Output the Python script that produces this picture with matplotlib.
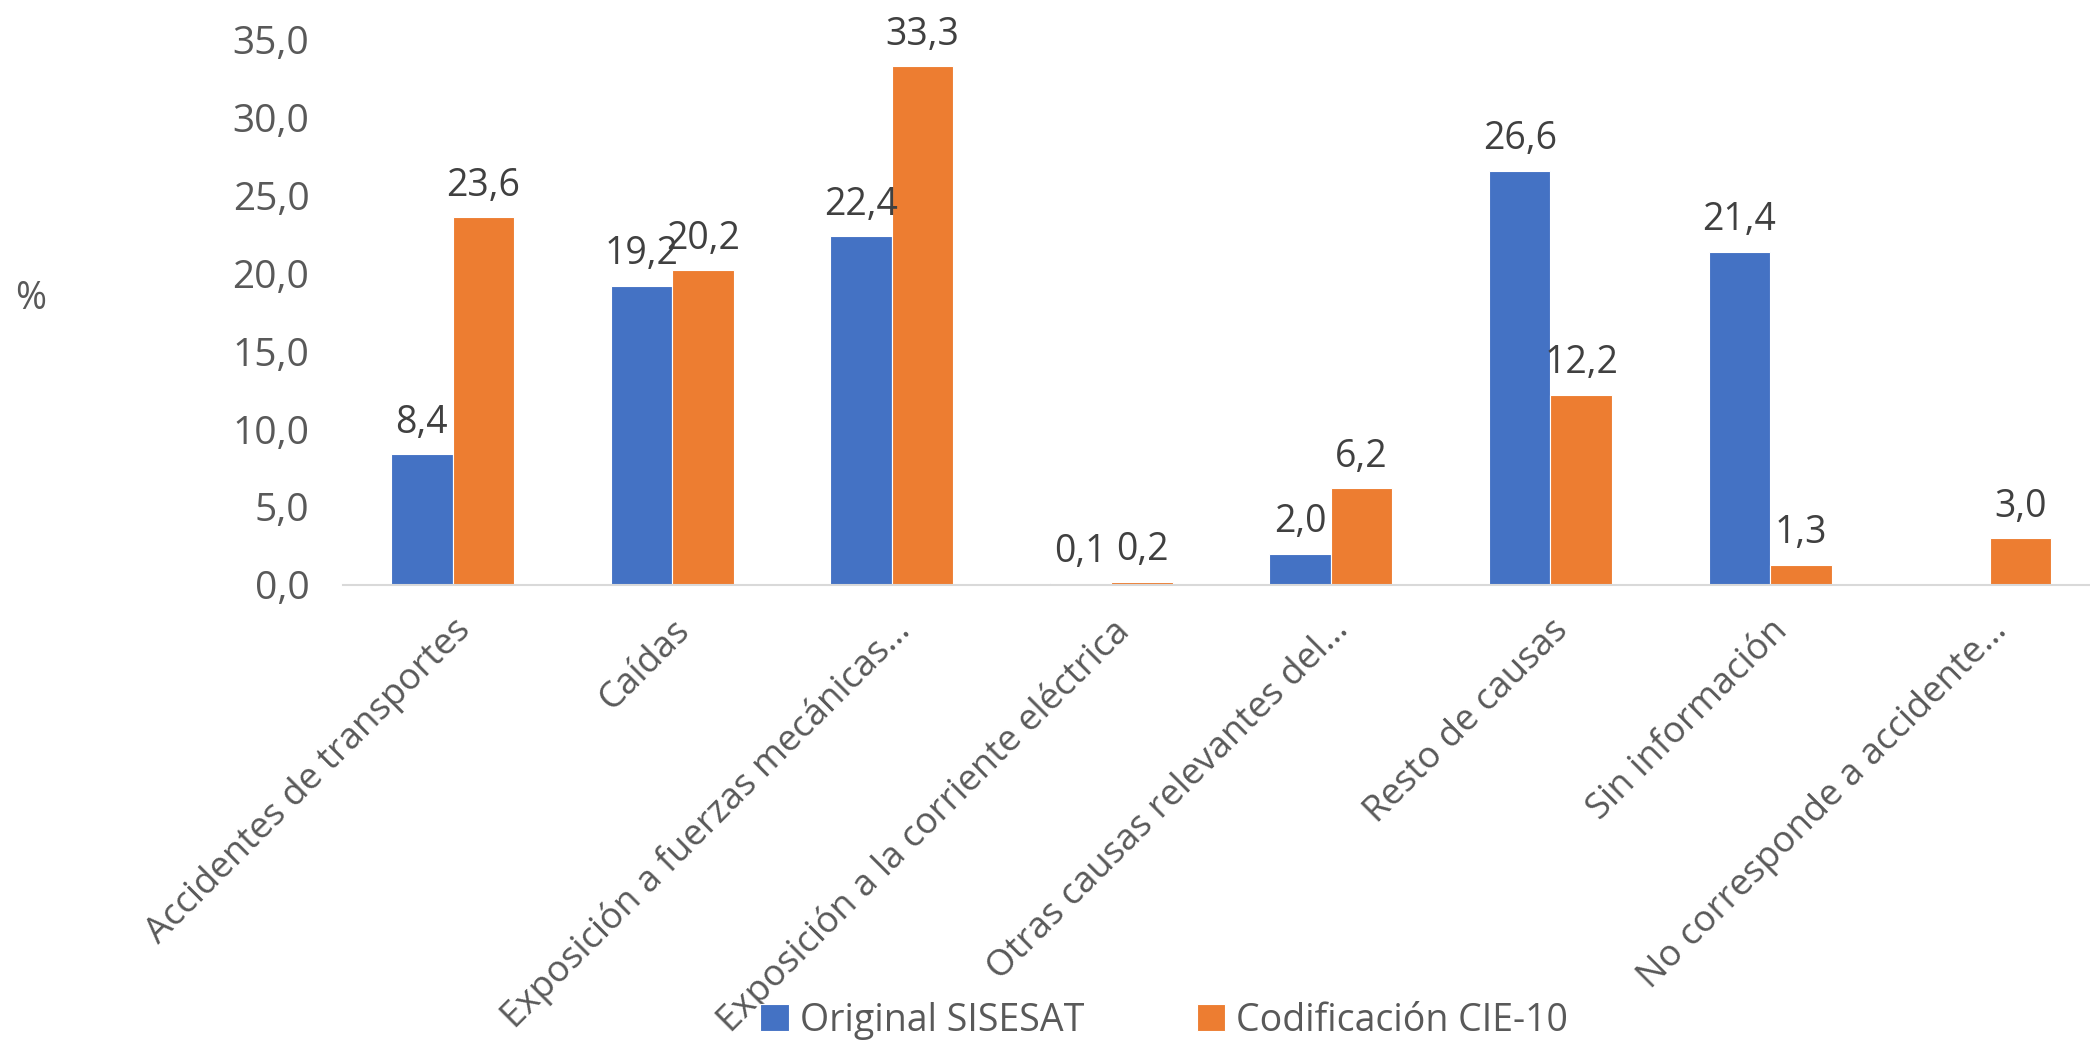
import numpy as np
import matplotlib
matplotlib.use("Agg")
import matplotlib.pyplot as plt

plt.rcParams['font.family'] = ['Open Sans', 'DejaVu Sans']

categorias = [
    "Accidentes de transportes",
    "Caídas",
    "Exposición a fuerzas mecánicas…",
    "Exposición a la corriente eléctrica",
    "Otras causas relevantes del…",
    "Resto de causas",
    "Sin información",
    "No corresponde a accidente…",
]
original = [8.4, 19.2, 22.4, 0.1, 2.0, 26.6, 21.4, np.nan]
cie10 = [23.6, 20.2, 33.3, 0.2, 6.2, 12.2, 1.3, 3.0]
series = ["Original SISESAT", "Codificación CIE-10"]
colores = ["#4472C4", "#ED7D31"]

fig = plt.figure(figsize=(20.9, 10.5), dpi=100)
ax = fig.add_axes([0.164, 0.443, 0.8405, 0.519])

x = np.arange(len(categorias))
w = 0.28
fs = 27
b1 = ax.bar(x - w / 2, original, w, color=colores[0], label=series[0], edgecolor="white", linewidth=0.8)
b2 = ax.bar(x + w / 2, cie10, w, color=colores[1], label=series[1], edgecolor="white", linewidth=0.8)

for bars, vals in ((b1, original), (b2, cie10)):
    for b, v in zip(bars, vals):
        if np.isnan(v):
            continue
        ax.annotate(f"{v:.1f}".replace(".", ","), (b.get_x() + b.get_width() / 2, v),
                    xytext=(0, 9), textcoords="offset points",
                    ha="center", va="bottom", fontsize=fs, color="#404040")

ax.set_xlim(-0.5, len(categorias) - 0.5)
ax.set_ylim(0, 35)
ax.set_yticks(np.arange(0, 36, 5))
ax.set_yticklabels([f"{t:.1f}".replace(".", ",") for t in np.arange(0, 36, 5)])
ax.set_xticks(x)
ax.set_xticklabels(categorias, rotation=45, ha="right", rotation_mode="anchor")
ax.tick_params(axis="both", length=0, labelsize=fs, labelcolor="#595959")
ax.tick_params(axis="y", pad=24, labelsize=28)
ax.tick_params(axis="x", pad=20, labelsize=26.3)

for s in ["top", "right", "left"]:
    ax.spines[s].set_visible(False)
ax.spines["bottom"].set_color("#D9D9D9")
ax.spines["bottom"].set_linewidth(1.5)

fig.text(0.007, 0.715, "%", fontsize=fs, color="#595959", va="center")

fig.legend(loc="center", bbox_to_anchor=(0.557, 0.028), ncol=2, frameon=False,
           fontsize=fs, labelcolor="#595959", handlelength=0.75, handleheight=0.75,
           handletextpad=0.3, columnspacing=3.0)

fig.savefig("out.png", dpi=100)
